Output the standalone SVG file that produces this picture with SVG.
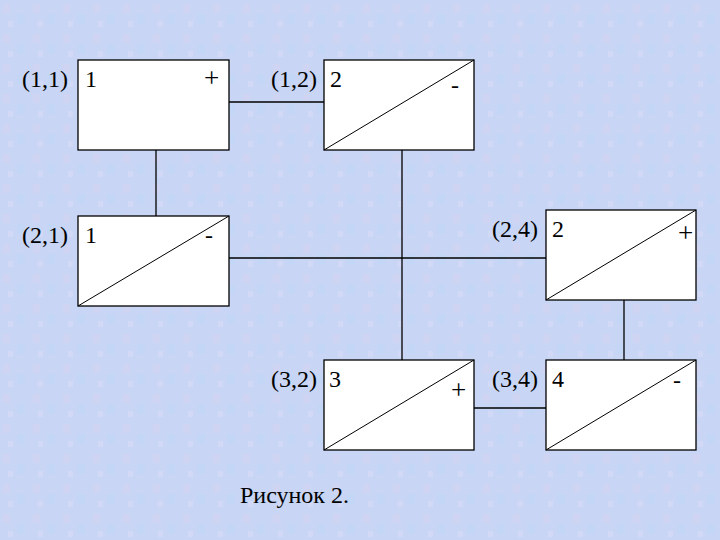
<svg xmlns="http://www.w3.org/2000/svg" width="720" height="540" viewBox="0 0 720 540">
<defs>
<pattern id="tex" width="30" height="30" patternUnits="userSpaceOnUse">
<rect width="30" height="30" fill="#c8d5f4"/>
<rect x="3" y="4" width="7" height="9" fill="#d4d2f2" opacity="0.55"/>
<rect x="17" y="14" width="8" height="10" fill="#bfd6f6" opacity="0.55"/>
<rect x="8" y="21" width="5" height="6" fill="#d8dcf7" opacity="0.55"/>
</pattern>
<style>
.box{fill:#ffffff;stroke:#000000;stroke-width:1.3}
.diag{stroke:#000000;stroke-width:1}
.conn{stroke:#000000;stroke-width:1.3;fill:none}
.t{font-size:24px;fill:#000000}
.p{font-size:27px;fill:#000000}
</style>
</defs>
<rect width="720" height="540" fill="url(#tex)"/>
<g id="connectors">
<line class="conn" x1="229" y1="102" x2="324" y2="102"/>
<line class="conn" x1="156" y1="150" x2="156" y2="216"/>
<line class="conn" x1="402" y1="150" x2="402" y2="360"/>
<line class="conn" x1="229" y1="258" x2="546" y2="258"/>
<line class="conn" x1="624" y1="300" x2="624" y2="360"/>
<line class="conn" x1="474" y1="408" x2="546" y2="408"/>
</g>
<g font-family="Liberation Serif, Times New Roman, serif">
<g id="n11">
<rect class="box" x="78" y="60" width="151" height="90"/>
<text class="t" x="22" y="87">(1,1)</text>
<text class="t" x="85" y="87">1</text>
<text class="p" x="204" y="87">+</text>
</g>
<g id="n12">
<rect class="box" x="324" y="60" width="150" height="90"/>
<line class="diag" x1="324" y1="150" x2="474" y2="60"/>
<text class="t" x="271" y="87">(1,2)</text>
<text class="t" x="330" y="87">2</text>
<text class="t" x="451" y="93">-</text>
</g>
<g id="n21">
<rect class="box" x="78" y="216" width="151" height="90"/>
<line class="diag" x1="78" y1="306" x2="229" y2="216"/>
<text class="t" x="22" y="243">(2,1)</text>
<text class="t" x="85" y="243">1</text>
<text class="t" x="205" y="243">-</text>
</g>
<g id="n24">
<rect class="box" x="546" y="210" width="150" height="90"/>
<line class="diag" x1="546" y1="300" x2="696" y2="210"/>
<text class="t" x="492" y="237">(2,4)</text>
<text class="t" x="552" y="237">2</text>
<text class="p" x="678" y="242">+</text>
</g>
<g id="n32">
<rect class="box" x="324" y="360" width="150" height="90"/>
<line class="diag" x1="324" y1="450" x2="474" y2="360"/>
<text class="t" x="271" y="387">(3,2)</text>
<text class="t" x="329" y="387">3</text>
<text class="p" x="451" y="399">+</text>
</g>
<g id="n34">
<rect class="box" x="546" y="360" width="150" height="90"/>
<line class="diag" x1="546" y1="450" x2="696" y2="360"/>
<text class="t" x="492" y="387">(3,4)</text>
<text class="t" x="552" y="387">4</text>
<text class="t" x="673" y="388">-</text>
</g>
<text class="t" x="240" y="503">Рисунок 2.</text>
</g>
</svg>
